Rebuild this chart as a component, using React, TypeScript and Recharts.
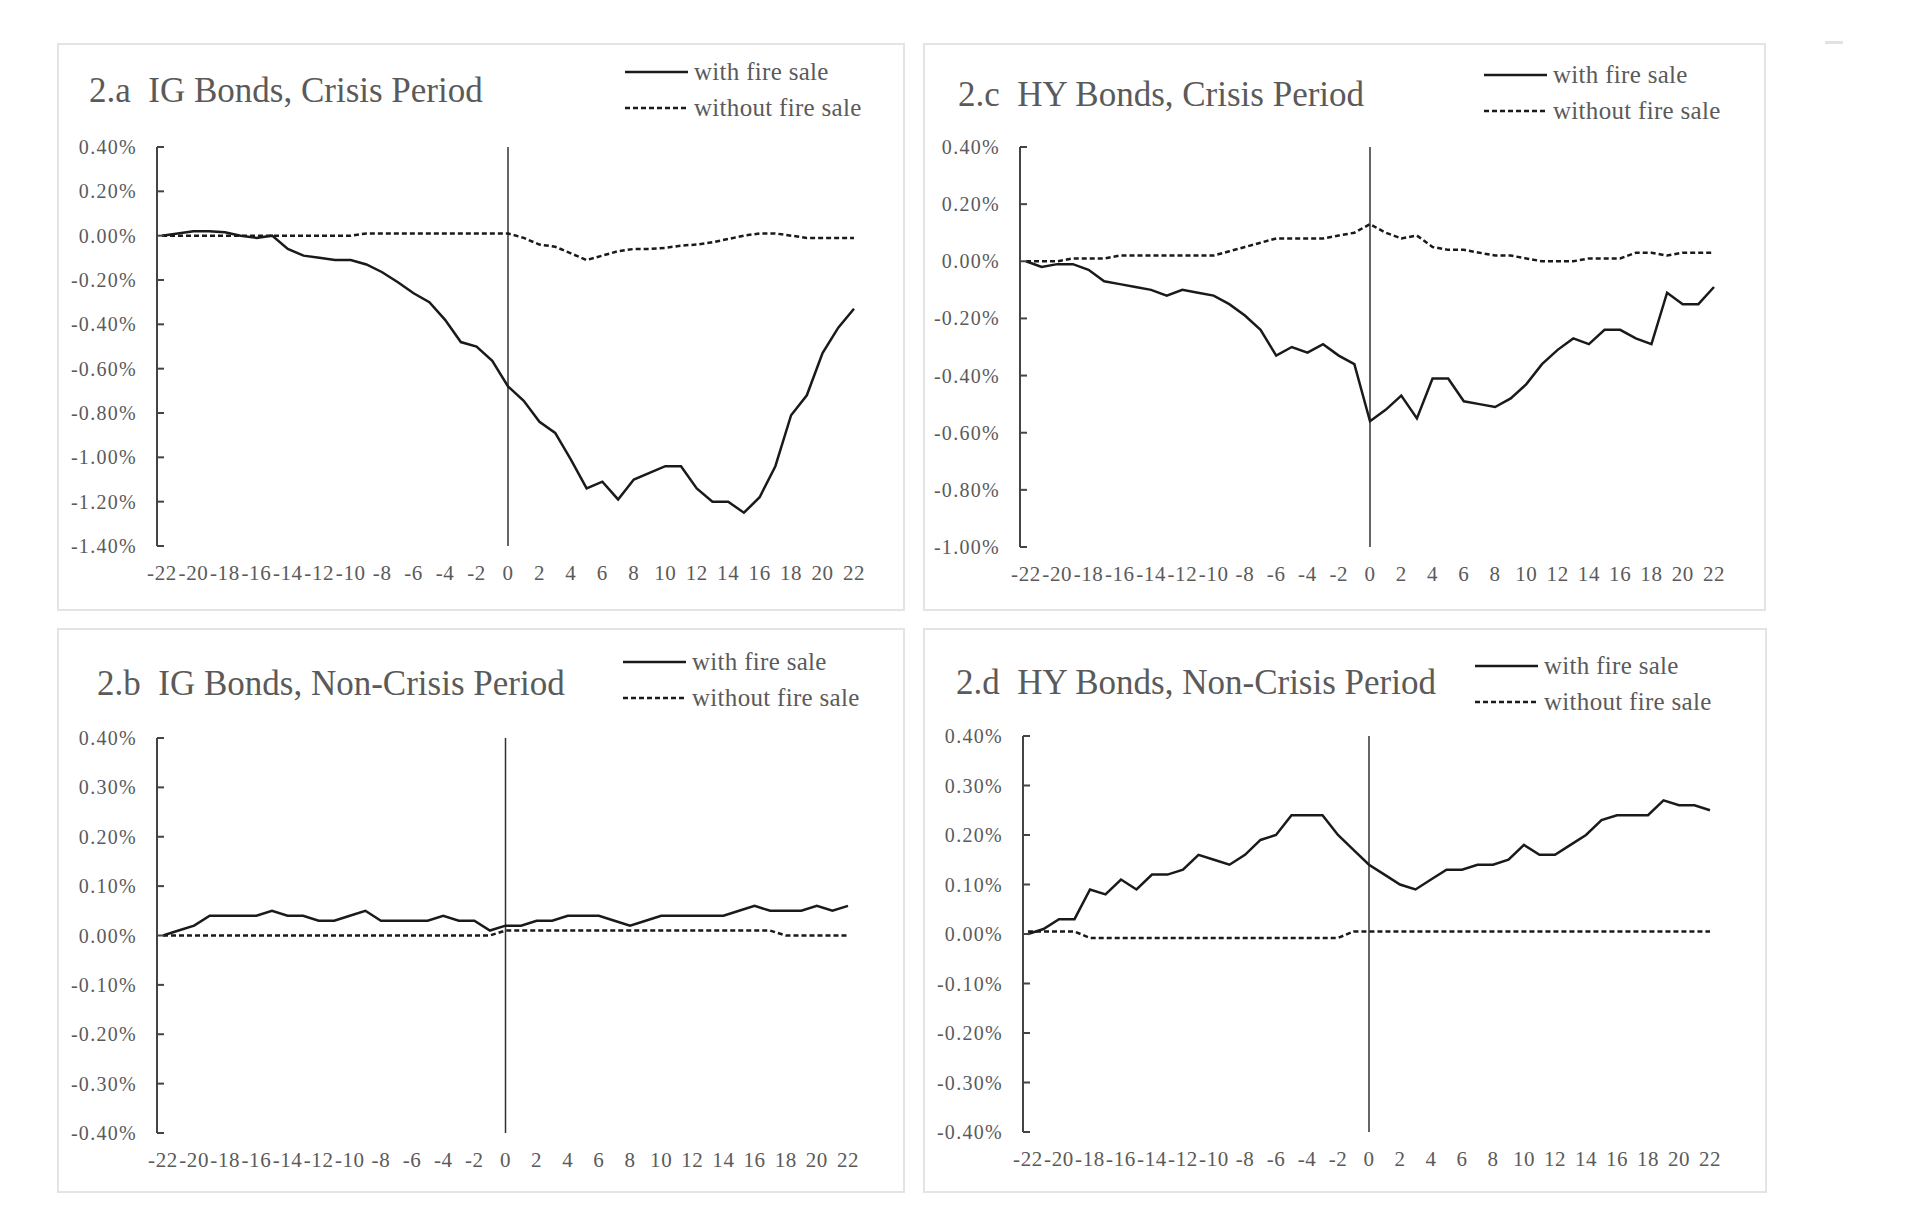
import React from 'react';
import { LineChart, Line, XAxis, YAxis, ReferenceLine, Legend } from 'recharts';

// event window (days around the event)
const periods = [
  -22, -21, -20, -19, -18, -17, -16, -15, -14, -13, -12, -11, -10, -9, -8, -7, -6, -5, -4, -3, -2, -1,
  0, 1, 2, 3, 4, 5, 6, 7, 8, 9, 10, 11, 12, 13, 14, 15, 16, 17, 18, 19, 20, 21, 22,
];
const xTicks = [-22, -20, -18, -16, -14, -12, -10, -8, -6, -4, -2, 0, 2, 4, 6, 8, 10, 12, 14, 16, 18, 20, 22];

// 2.a IG bonds, crisis period (in %)
const igCrisisWith = [
  0.0, 0.01, 0.02, 0.02, 0.015, 0.0, -0.01, 0.0, -0.06, -0.09, -0.1, -0.11, -0.11, -0.13, -0.165, -0.21, -0.26, -0.3, -0.38, -0.48, -0.5, -0.565,
  -0.68, -0.745, -0.84, -0.89, -1.01, -1.14, -1.11, -1.19, -1.1, -1.07, -1.04, -1.04, -1.14, -1.2, -1.2, -1.25, -1.18, -1.04, -0.81, -0.72, -0.53, -0.415, -0.33,
];
const igCrisisWithout = [
  0.0, 0.0, 0.0, 0.0, 0.0, 0.0, 0.0, 0.0, 0.0, 0.0, 0.0, 0.0, 0.0, 0.01, 0.01, 0.01, 0.01, 0.01, 0.01, 0.01, 0.01, 0.01,
  0.01, -0.01, -0.04, -0.05, -0.08, -0.11, -0.09, -0.07, -0.06, -0.06, -0.055, -0.045, -0.04, -0.03, -0.015, 0.0, 0.01, 0.01, 0.0, -0.01, -0.01, -0.01, -0.01,
];

// 2.c HY bonds, crisis period
const hyCrisisWith = [
  0.0, -0.02, -0.01, -0.01, -0.03, -0.07, -0.08, -0.09, -0.1, -0.12, -0.1, -0.11, -0.12, -0.15, -0.19, -0.24, -0.33, -0.3, -0.32, -0.29, -0.33, -0.36,
  -0.56, -0.52, -0.47, -0.55, -0.41, -0.41, -0.49, -0.5, -0.51, -0.48, -0.43, -0.36, -0.31, -0.27, -0.29, -0.24, -0.24, -0.27, -0.29, -0.11, -0.15, -0.15, -0.09,
];
const hyCrisisWithout = [
  0.0, 0.0, 0.0, 0.01, 0.01, 0.01, 0.02, 0.02, 0.02, 0.02, 0.02, 0.02, 0.02, 0.035, 0.05, 0.065, 0.08, 0.08, 0.08, 0.08, 0.09, 0.1,
  0.13, 0.1, 0.08, 0.09, 0.05, 0.04, 0.04, 0.03, 0.02, 0.02, 0.01, 0.0, 0.0, 0.0, 0.01, 0.01, 0.01, 0.03, 0.03, 0.02, 0.03, 0.03, 0.03,
];

// 2.b IG bonds, non-crisis period
const igCalmWith = [
  0.0, 0.01, 0.02, 0.04, 0.04, 0.04, 0.04, 0.05, 0.04, 0.04, 0.03, 0.03, 0.04, 0.05, 0.03, 0.03, 0.03, 0.03, 0.04, 0.03, 0.03, 0.01,
  0.02, 0.02, 0.03, 0.03, 0.04, 0.04, 0.04, 0.03, 0.02, 0.03, 0.04, 0.04, 0.04, 0.04, 0.04, 0.05, 0.06, 0.05, 0.05, 0.05, 0.06, 0.05, 0.06,
];
const igCalmWithout = [
  0.0, 0.0, 0.0, 0.0, 0.0, 0.0, 0.0, 0.0, 0.0, 0.0, 0.0, 0.0, 0.0, 0.0, 0.0, 0.0, 0.0, 0.0, 0.0, 0.0, 0.0, 0.0,
  0.01, 0.01, 0.01, 0.01, 0.01, 0.01, 0.01, 0.01, 0.01, 0.01, 0.01, 0.01, 0.01, 0.01, 0.01, 0.01, 0.01, 0.01, 0.0, 0.0, 0.0, 0.0, 0.0,
];

// 2.d HY bonds, non-crisis period
const hyCalmWith = [
  0.0, 0.01, 0.03, 0.03, 0.09, 0.08, 0.11, 0.09, 0.12, 0.12, 0.13, 0.16, 0.15, 0.14, 0.16, 0.19, 0.2, 0.24, 0.24, 0.24, 0.2, 0.17,
  0.14, 0.12, 0.1, 0.09, 0.11, 0.13, 0.13, 0.14, 0.14, 0.15, 0.18, 0.16, 0.16, 0.18, 0.2, 0.23, 0.24, 0.24, 0.24, 0.27, 0.26, 0.26, 0.25,
];
const hyCalmWithout = [
  0.005, 0.005, 0.005, 0.005, -0.008, -0.008, -0.008, -0.008, -0.008, -0.008, -0.008, -0.008, -0.008, -0.008, -0.008, -0.008, -0.008, -0.008, -0.008, -0.008, -0.008, 0.005,
  0.005, 0.005, 0.005, 0.005, 0.005, 0.005, 0.005, 0.005, 0.005, 0.005, 0.005, 0.005, 0.005, 0.005, 0.005, 0.005, 0.005, 0.005, 0.005, 0.005, 0.005, 0.005, 0.005,
];

const yTicksIgCrisis = [0.4, 0.2, 0, -0.2, -0.4, -0.6, -0.8, -1.0, -1.2, -1.4];
const yTicksHyCrisis = [0.4, 0.2, 0, -0.2, -0.4, -0.6, -0.8, -1.0];
const yTicksCalm = [0.4, 0.3, 0.2, 0.1, 0, -0.1, -0.2, -0.3, -0.4];

const seriesNames = ['with fire sale', 'without fire sale'];

const FONT = "'Liberation Serif', 'Times New Roman', serif";
const TEXT = '#5a5a5a';
const INK = '#1a1a1a';
const AXIS = '#444';
const Y_AXIS_W = 70;
const X_AXIS_H = 30;
const LEG_PAD = 10; // room above the first legend row so the text is not clipped

const fmtPct = (v: number) => `${Math.abs(v) < 1e-9 ? '0.00' : v.toFixed(2)}%`;

const buildRows = (withFs: number[], withoutFs: number[]) =>
  periods.map((t, i) => ({ t, withFs: withFs[i], withoutFs: withoutFs[i] }));

const YTick = (props: any) => {
  const { x, y, payload } = props;
  return (
    <g>
      <line x1={x} x2={x + 7} y1={y} y2={y} stroke={AXIS} strokeWidth={2} />
      <text
        x={x - 20}
        y={y}
        dy="0.35em"
        textAnchor="end"
        fill={TEXT}
        fontSize={20}
        letterSpacing={1.3}
        fontFamily={FONT}
      >
        {fmtPct(payload.value)}
      </text>
    </g>
  );
};

const renderLegend = (props: any) => {
  const items = props.payload || [];
  return (
    <svg width={300} height={90} style={{ overflow: 'visible' }}>
      {items.map((entry: any, i: number) => (
        <g key={i}>
          <line
            x1={0}
            x2={63}
            y1={LEG_PAD + 12 + i * 36}
            y2={LEG_PAD + 12 + i * 36}
            stroke={INK}
            strokeWidth={2.5}
            strokeDasharray={i === 1 ? '5 3' : undefined}
          />
          <text
            x={69}
            y={LEG_PAD + 20 + i * 36}
            fill={TEXT}
            fontSize={25}
            letterSpacing={0.3}
            fontFamily={FONT}
          >
            {entry.value}
          </text>
        </g>
      ))}
    </svg>
  );
};

interface PanelProps {
  box: { x: number; y: number; w: number; h: number };
  axisX: number;
  pad: number;
  plotRight: number;
  plotTop: number;
  plotBottom: number;
  title: string;
  titlePos: { left: number; top: number };
  legendPos: { left: number; top: number };
  yDomain: [number, number];
  yTicks: number[];
  withFs: number[];
  withoutFs: number[];
}

function Panel(p: PanelProps) {
  const { box } = p;
  const margin = {
    left: p.axisX - box.x - Y_AXIS_W,
    top: p.plotTop - box.y,
    right: box.x + box.w - p.plotRight,
    bottom: box.y + box.h - p.plotBottom - X_AXIS_H,
  };
  const rows = buildRows(p.withFs, p.withoutFs);

  return (
    <div style={{ position: 'absolute', left: box.x, top: box.y, width: box.w, height: box.h }}>
      <div
        style={{
          position: 'absolute',
          inset: 0,
          border: '2px solid #e4e4e4',
          boxSizing: 'border-box',
        }}
      />
      <div
        style={{
          position: 'absolute',
          left: p.titlePos.left,
          top: p.titlePos.top,
          fontFamily: FONT,
          fontSize: 35,
          lineHeight: '35px',
          color: TEXT,
          whiteSpace: 'pre',
        }}
      >
        {p.title}
      </div>
      <div style={{ position: 'absolute', left: 0, top: 0 }}>
        <LineChart width={box.w} height={box.h} data={rows} margin={margin}>
          <XAxis
            dataKey="t"
            type="number"
            domain={[-22, 22]}
            ticks={xTicks}
            interval={0}
            padding={{ left: p.pad, right: p.pad }}
            axisLine={false}
            tickLine={false}
            tickSize={0}
            tickMargin={19}
            height={X_AXIS_H}
            tick={{ fill: TEXT, fontSize: 21, fontFamily: FONT, letterSpacing: 0.6 }}
          />
          <YAxis
            type="number"
            domain={p.yDomain}
            ticks={p.yTicks}
            interval={0}
            width={Y_AXIS_W}
            allowDataOverflow
            axisLine={{ stroke: AXIS, strokeWidth: 2 }}
            tickLine={false}
            tickSize={0}
            tickMargin={0}
            tick={<YTick />}
          />
          <ReferenceLine x={0} stroke="#333" strokeWidth={1.5} />
          <Line
            type="linear"
            dataKey="withFs"
            name={seriesNames[0]}
            stroke={INK}
            strokeWidth={2.5}
            dot={false}
            isAnimationActive={false}
          />
          <Line
            type="linear"
            dataKey="withoutFs"
            name={seriesNames[1]}
            stroke={INK}
            strokeWidth={2.5}
            strokeDasharray="5 3"
            dot={false}
            isAnimationActive={false}
          />
          <Legend
            layout="vertical"
            align="center"
            verticalAlign="middle"
            content={renderLegend}
            wrapperStyle={{ left: p.legendPos.left, top: p.legendPos.top - LEG_PAD, width: 300 }}
          />
        </LineChart>
      </div>
    </div>
  );
}

export default function App() {
  return (
    <div
      style={{
        position: 'absolute',
        left: 0,
        top: 0,
        width: 1920,
        height: 1226,
        background: '#fff',
        overflow: 'hidden',
      }}
    >
      <Panel
        box={{ x: 57, y: 43, w: 848, h: 568 }}
        axisX={157}
        pad={5}
        plotRight={859}
        plotTop={147}
        plotBottom={546}
        title={'2.a  IG Bonds, Crisis Period'}
        titlePos={{ left: 32, top: 30 }}
        legendPos={{ left: 568, top: 17 }}
        yDomain={[-1.4, 0.4]}
        yTicks={yTicksIgCrisis}
        withFs={igCrisisWith}
        withoutFs={igCrisisWithout}
      />
      <Panel
        box={{ x: 923, y: 43, w: 843, h: 568 }}
        axisX={1020}
        pad={6}
        plotRight={1720}
        plotTop={147}
        plotBottom={547}
        title={'2.c  HY Bonds, Crisis Period'}
        titlePos={{ left: 35, top: 34 }}
        legendPos={{ left: 561, top: 20 }}
        yDomain={[-1.0, 0.4]}
        yTicks={yTicksHyCrisis}
        withFs={hyCrisisWith}
        withoutFs={hyCrisisWithout}
      />
      <Panel
        box={{ x: 57, y: 628, w: 848, h: 565 }}
        axisX={157}
        pad={6}
        plotRight={854}
        plotTop={738}
        plotBottom={1133}
        title={'2.b  IG Bonds, Non-Crisis Period'}
        titlePos={{ left: 40, top: 38 }}
        legendPos={{ left: 566, top: 22 }}
        yDomain={[-0.4, 0.4]}
        yTicks={yTicksCalm}
        withFs={igCalmWith}
        withoutFs={igCalmWithout}
      />
      <Panel
        box={{ x: 923, y: 628, w: 844, h: 565 }}
        axisX={1023}
        pad={5}
        plotRight={1715}
        plotTop={736}
        plotBottom={1132}
        title={'2.d  HY Bonds, Non-Crisis Period'}
        titlePos={{ left: 33, top: 37 }}
        legendPos={{ left: 552, top: 26 }}
        yDomain={[-0.4, 0.4]}
        yTicks={yTicksCalm}
        withFs={hyCalmWith}
        withoutFs={hyCalmWithout}
      />
      <div style={{ position: 'absolute', left: 1825, top: 41, width: 18, height: 3, background: '#e2e2e2' }} />
    </div>
  );
}
